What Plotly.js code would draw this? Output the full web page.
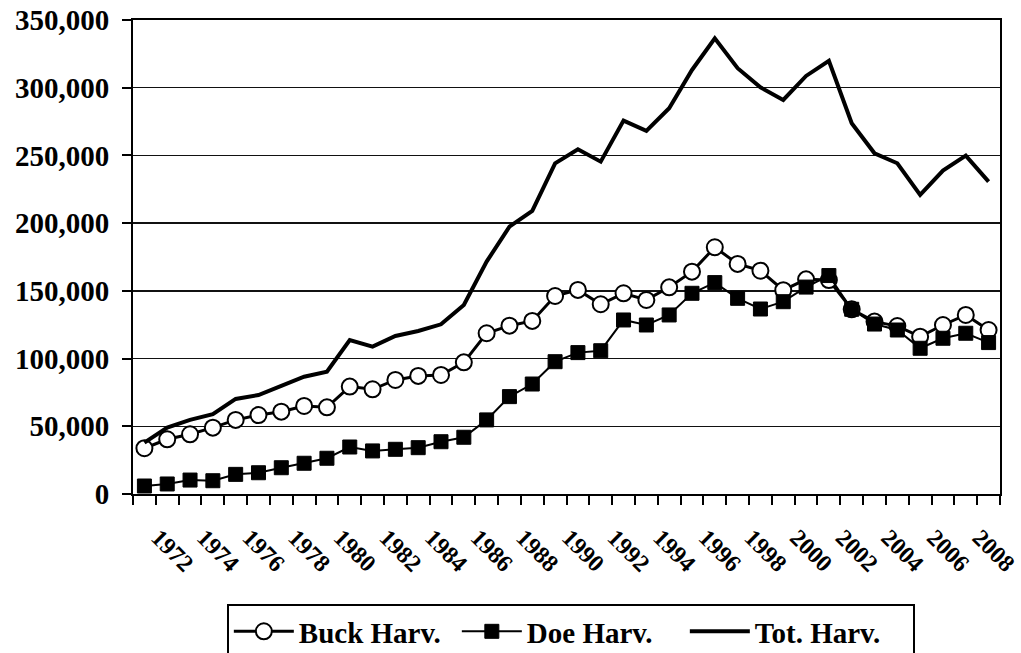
<!DOCTYPE html>
<html>
<head>
<meta charset="utf-8">
<script src="https://cdn.plot.ly/plotly-3.0.1.min.js"></script>
<style>
html,body{margin:0;padding:0;background:#fff;}
#chart{width:1021px;height:653px;}
</style>
</head>
<body>
<div id="chart"></div>
<script>
var years = [1971,1972,1973,1974,1975,1976,1977,1978,1979,1980,1981,1982,1983,1984,1985,1986,1987,1988,1989,1990,1991,1992,1993,1994,1995,1996,1997,1998,1999,2000,2001,2002,2003,2004,2005,2006,2007,2008];
var buckHarv = [33800,40400,44100,49000,54700,58300,60800,65000,64000,79300,77300,84200,87200,87900,97200,118700,124300,127800,146200,150700,140100,148200,143300,152600,164200,182200,169900,164900,150500,158500,158000,136400,127300,124000,116200,124800,132200,121100];
var doeHarv = [5900,7400,10300,9800,14500,15700,19400,22700,26400,34700,31800,33000,34200,38600,41900,54700,71900,81200,97700,104400,105800,128500,124800,132200,148200,156100,144500,136600,142000,152800,161300,136400,125500,121100,107600,115000,118700,111800];
var totHarv = [37900,49000,54700,59000,70200,73100,79800,86600,90300,113700,108800,116700,120400,125300,139600,171600,197400,209000,244200,254600,245400,275700,268100,284900,313100,336500,314400,300300,291000,308700,319800,273800,251600,244200,220800,238800,249900,230700];
var xLabels = [1972,1974,1976,1978,1980,1982,1984,1986,1988,1990,1992,1994,1996,1998,2000,2002,2004,2006,2008];
var yTicks = [0,50000,100000,150000,200000,250000,300000,350000];

var FONT = 'Liberation Serif, Times New Roman, serif';

var traces = [
  {x: years, y: buckHarv, name: 'Buck Harv.', type: 'scatter', mode: 'lines+markers',
   line: {color: '#000', width: 3},
   marker: {symbol: 'circle', size: 16, color: '#fff', line: {color: '#000', width: 2}}},
  {x: years, y: doeHarv, name: 'Doe Harv.', type: 'scatter', mode: 'lines+markers',
   line: {color: '#000', width: 2},
   marker: {symbol: 'square', size: 14, color: '#000', line: {color: '#000', width: 1}}},
  {x: years, y: totHarv, name: 'Tot. Harv.', type: 'scatter', mode: 'lines',
   line: {color: '#000', width: 4}}
];

var layout = {
  width: 1021, height: 653,
  margin: {l: 133, r: 21, t: 20, b: 159, pad: 0, autoexpand: false},
  paper_bgcolor: '#fff', plot_bgcolor: '#fff',
  showlegend: true,
  hovermode: false,
  font: {family: FONT, size: 24, color: '#000', weight: 'bold'},
  xaxis: {
    range: [1970.5, 2008.5],
    tickmode: 'array', tickvals: xLabels, ticktext: xLabels.map(String),
    tickangle: 45,
    ticks: '', showgrid: false, zeroline: false,
    showline: true, linecolor: '#000', linewidth: 2, mirror: true,
    ticklabelstandoff: 18,
    ticklabelshift: -9,
    ticklabeloverflow: 'allow',
    tickfont: {family: FONT, size: 24, color: '#000', weight: 'bold'},
    minor: {tickmode: 'linear', tick0: 1970.5, dtick: 1, ticks: 'outside', ticklen: 9, tickwidth: 2, tickcolor: '#000', showgrid: false}
  },
  yaxis: {
    range: [0, 350000],
    tickmode: 'array', tickvals: yTicks,
    tickformat: ',d',
    ticks: 'outside', ticklen: 9, tickwidth: 2, tickcolor: '#000',
    showgrid: true, gridcolor: '#111', gridwidth: 1.5,
    zeroline: false,
    showline: true, linecolor: '#000', linewidth: 2, mirror: true,
    ticklabelstandoff: 7,
    tickfont: {family: FONT, size: 29, color: '#000', weight: 'bold'}
  },
  legend: {
    orientation: 'h', x: 0.505, xanchor: 'center', y: -0.232, yanchor: 'top',
    bordercolor: '#000', borderwidth: 2, bgcolor: '#fff',
    font: {family: FONT, size: 29, color: '#000', weight: 'bold'},
    itemsizing: 'trace', itemwidth: 60, tracegroupgap: 0,
    entrywidthmode: 'pixels', entrywidth: 153
  }
};

Plotly.newPlot('chart', traces, layout, {displayModeBar: false, staticPlot: true});
</script>
</body>
</html>
